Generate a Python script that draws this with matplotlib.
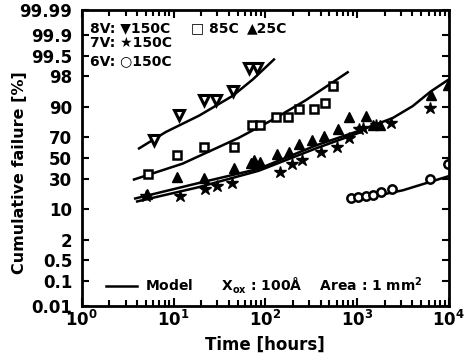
import numpy as np
import matplotlib
matplotlib.use('Agg')
import matplotlib.pyplot as plt
from matplotlib.ticker import NullLocator, FixedLocator
from statistics import NormalDist

plt.rcParams['font.family'] = 'DejaVu Sans'
plt.rcParams['font.weight'] = 'bold'
plt.rcParams['mathtext.default'] = 'bf'

# ---- data (time in hours, failure in %) ----
t_8v150 = [6.1, 11.5, 21.7, 28.7, 44, 67, 81]
f_8v150 = [67.8, 86.3, 92.9, 92.9, 95.4, 98.8, 98.8]

t_8v85 = [5.2, 11.0, 21.5, 45.8, 71, 88, 132, 176, 230, 336, 449, 549]
f_8v85 = [34.6, 53.3, 61.0, 60.6, 79.8, 79.7, 85.1, 85.0, 89.2, 89.3, 91.6, 96.4]

t_8v25 = [5.1, 10.8, 21.2, 45, 69, 75, 88, 135, 180, 232, 326, 437, 613,
          822, 1254, 1478, 1754, 6395, 9900]
f_8v25 = [18.5, 31.2, 30.9, 39.9, 44.7, 48.1, 46.3, 54.4, 56.0, 63.9, 67.0,
          71.3, 76.6, 84.6, 85.4, 80.0, 80.0, 94.3, 96.6]

t_7v150 = [5.0, 11.7, 22, 29.4, 43, 146, 197, 253, 405, 610, 822, 1059,
           1151, 1600, 2362, 6200]
f_7v150 = [17.2, 16.9, 21.4, 23.8, 26.3, 36.2, 44.2, 47.5, 55.6, 60.4, 69.5,
           76.4, 77.7, 80.0, 81.0, 89.4]

t_6v150 = [850, 1010, 1250, 1480, 1830, 2370, 6250, 9900]
f_6v150 = [15.7, 16.2, 17.0, 17.6, 19.8, 21.4, 29.9, 44.0]

# model curves
mt_8v150 = [4.2, 8.2, 19, 44, 73, 124]
mf_8v150 = [59.5, 74.3, 85.7, 94.1, 97.6, 99.34]
mt_8v85 = [3.7, 12.5, 51, 119, 276, 789]
mf_8v85 = [29.4, 44.3, 69.3, 83.1, 92.7, 98.45]
mt_a = [3.81, 18.7, 84.8, 358, 1059, 2432, 4030, 6350, 10000]
mf_a = [15.4, 26.4, 39.3, 62.5, 75.4, 84.2, 90.4, 95.3, 97.6]
mt_b = [4.0, 18.7, 84.8, 358, 1059]
mf_b = [13.7, 23.1, 37.4, 59.6, 73.8]
mt_6v = [860, 3150, 10000]
mf_6v = [14.0, 20.8, 32.4]

yticks = [0.01, 0.1, 0.5, 2, 10, 30, 50, 70, 90, 98, 99.5, 99.9, 99.99]
ylabels = ['0.01', '0.1', '0.5', '2', '10', '30', '50', '70', '90', '98',
           '99.5', '99.9', '99.99']

nd = NormalDist()
_fwd = np.vectorize(lambda p: nd.inv_cdf(min(max(p / 100.0, 1e-9), 1 - 1e-9)),
                    otypes=[float])
_inv = np.vectorize(lambda z: 100.0 * nd.cdf(z), otypes=[float])


def forward(p):
    return _fwd(np.asarray(p, dtype=float))


def inverse(z):
    return _inv(np.asarray(z, dtype=float))


fig = plt.figure(figsize=(4.76, 3.64), dpi=100)
ax = fig.add_axes([0.172, 0.16, 0.771, 0.812])
ax.set_xscale('log')
ax.set_yscale('function', functions=(forward, inverse))

lw = 1.8
model, = ax.plot(mt_8v150, mf_8v150, '-', color='k', lw=lw)
for mt, mf in [(mt_8v85, mf_8v85), (mt_a, mf_a), (mt_b, mf_b), (mt_6v, mf_6v)]:
    ax.plot(mt, mf, '-', color='k', lw=lw)

ax.plot(t_8v150, f_8v150, 'v', ms=7, mfc='white', mec='k', mew=2.2, ls='none')
ax.plot(t_8v85, f_8v85, 's', ms=6, mfc='white', mec='k', mew=1.8, ls='none')
ax.plot(t_8v25, f_8v25, '^', ms=7, mfc='k', mec='k', ls='none')
ax.plot(t_7v150, f_7v150, '*', ms=9, mfc='k', mec='k', ls='none')
ax.plot(t_6v150, f_6v150, 'o', ms=6, mfc='white', mec='k', mew=1.8, ls='none')

ax.set_xlim(1, 1e4)
ax.set_ylim(0.01, 99.99)

ax.yaxis.set_major_locator(FixedLocator(yticks))
ax.yaxis.set_minor_locator(NullLocator())
ax.set_yticklabels(ylabels)
ax.set_xticks([1, 10, 100, 1000, 10000])
ax.set_xticklabels([r'$10^{0}$', r'$10^{1}$', r'$10^{2}$', r'$10^{3}$', r'$10^{4}$'])

ax.tick_params(which='both', direction='in', top=True, right=True,
               labelsize=12, width=1.5)
ax.tick_params(axis='y', which='major', length=5, pad=7)
ax.tick_params(axis='x', which='major', length=6, pad=3)
ax.tick_params(axis='x', which='minor', length=4)
for s in ax.spines.values():
    s.set_linewidth(2)

ax.set_xlabel('Time [hours]', fontsize=12, fontweight='bold', labelpad=4)
ax.set_ylabel('Cumulative failure [%]', fontsize=11.5, fontweight='bold')
ax.yaxis.set_label_coords(-0.15, 0.45)

# series key (top left)
fs = 10
ax.text(0.022, 0.939, '8V: \u25bc150C', transform=ax.transAxes, fontsize=fs,
        fontweight='bold', va='center', ha='left')
ax.text(0.296, 0.939, '\u25a1 85C', transform=ax.transAxes, fontsize=fs,
        fontweight='bold', va='center', ha='left')
ax.text(0.449, 0.939, '\u25b225C', transform=ax.transAxes, fontsize=fs,
        fontweight='bold', va='center', ha='left')
ax.text(0.022, 0.888, '7V: \u2605150C', transform=ax.transAxes, fontsize=fs,
        fontweight='bold', va='center', ha='left')
ax.text(0.022, 0.827, '6V: \u25cb150C', transform=ax.transAxes, fontsize=fs,
        fontweight='bold', va='center', ha='left')

leg = ax.legend([model], [r'Model      X$_{ox}$ : 100$\AA$    Area : 1 mm$^2$'],
                loc='lower left', frameon=False, handlelength=2.2,
                fontsize=10, borderaxespad=0.3, handletextpad=0.6,
                bbox_to_anchor=(0.04, 0.0))

fig.savefig('out.png', dpi=100)
